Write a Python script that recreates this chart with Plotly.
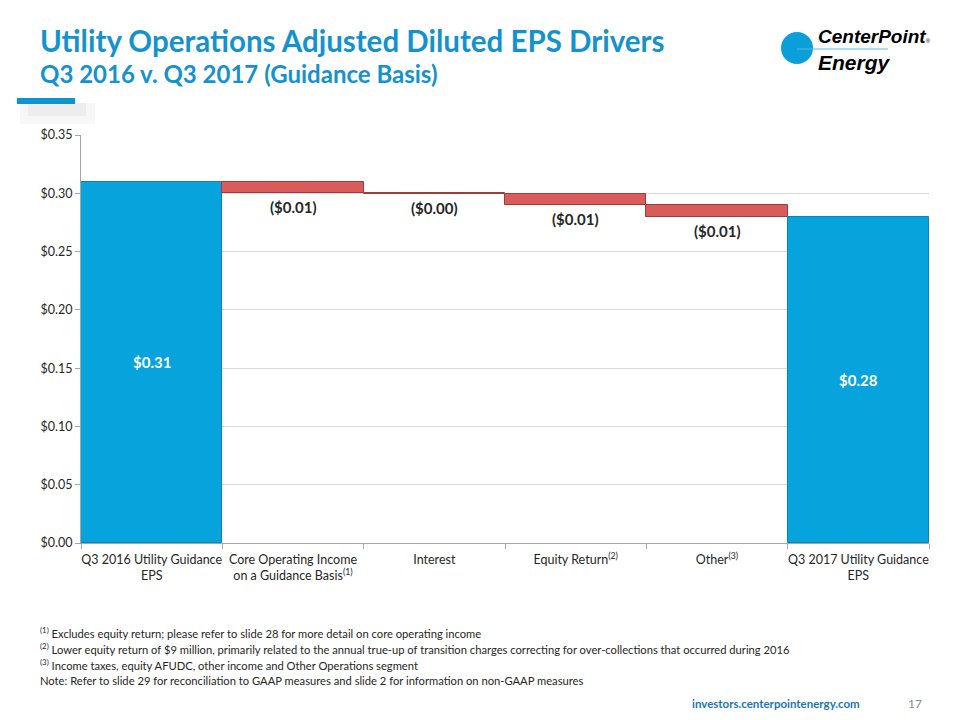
import plotly.graph_objects as go

categories = [
    "Q3 2016 Utility Guidance<br>EPS",
    "Core Operating Income<br>on a Guidance Basis<sup>(1)</sup>",
    "Interest",
    "Equity Return<sup>(2)</sup>",
    "Other<sup>(3)</sup>",
    "Q3 2017 Utility Guidance<br>EPS",
]
measures = ["absolute", "relative", "relative", "relative", "relative", "total"]
values = [0.31, -0.01, -0.0004, -0.01, -0.0096, 0]
labels = ["$0.31", "($0.01)", "($0.00)", "($0.01)", "($0.01)", "$0.28"]
y_ticks = [0.0, 0.05, 0.10, 0.15, 0.20, 0.25, 0.30, 0.35]

footnotes = [
    "<sup>(1)</sup> Excludes equity return; please refer to slide 28 for more detail on core operating income",
    "<sup>(2)</sup> Lower equity return of $9 million, primarily related to the annual true-up of transition charges correcting for over-collections that occurred during 2016",
    "<sup>(3)</sup> Income taxes, equity AFUDC, other income and Other Operations segment",
    "Note: Refer to slide 29 for reconciliation to GAAP measures and slide 2 for information on non-GAAP measures",
]

FONT = "Lato, Open Sans, sans-serif"
BLUE = "#06A3DC"
TITLE_BLUE = "#1592CE"

# page has an 8px body margin: the figure fills the rest of the window
OFF = 8
W, H = 960 - OFF, 720 - OFF
L, R, T, B = 81 - OFF, 31, 135 - OFF, 177
PW, PH = W - L - R, H - T - B


def px(x):
    return (x - OFF - L) / PW


def py(y):
    return (H - B - (y - OFF)) / PH


fig = go.Figure()
fig.add_trace(go.Waterfall(
    x=categories,
    y=values,
    measure=measures,
    textposition="none",
    connector=dict(visible=False),
    decreasing=dict(marker=dict(color="#D95B5B", line=dict(color="#9E3B3B", width=1))),
    increasing=dict(marker=dict(color="#D95B5B", line=dict(color="#9E3B3B", width=1))),
    totals=dict(marker=dict(color=BLUE, line=dict(color="#0A84B5", width=1))),
    hoverinfo="skip",
))

# value labels computed from the data
running = 0.0
annotations = []
for cat, m, v, lab in zip(categories, measures, values, labels):
    if m == "absolute":
        running = v
        annotations.append(dict(x=cat, y=running / 2, text=f"<b>{lab}</b>", showarrow=False,
                                font=dict(family=FONT, size=15, color="white")))
    elif m == "total":
        annotations.append(dict(x=cat, y=running / 2, text=f"<b>{lab}</b>", showarrow=False,
                                font=dict(family=FONT, size=15, color="white")))
    else:
        running += v
        annotations.append(dict(x=cat, y=running, text=f"<b>{lab}</b>", showarrow=False,
                                yanchor="top", yshift=-3,
                                font=dict(family=FONT, size=15, color="#262626")))

# titles
annotations.append(dict(xref="paper", yref="paper", x=px(38), y=py(41), xanchor="left", yanchor="middle",
                        text="<b>Utility Operations Adjusted Diluted EPS Drivers</b>", showarrow=False,
                        font=dict(family=FONT, size=29.5, color=TITLE_BLUE)))
annotations.append(dict(xref="paper", yref="paper", x=px(38), y=py(73), xanchor="left", yanchor="middle",
                        text="<b>Q3 2016 v. Q3 2017 (Guidance Basis)</b>", showarrow=False,
                        font=dict(family=FONT, size=24, color=TITLE_BLUE)))

# footnotes
for i, fn in enumerate(footnotes):
    annotations.append(dict(xref="paper", yref="paper", x=px(38), y=py(632 + 16 * i), xanchor="left",
                            yanchor="middle", text=fn, showarrow=False,
                            font=dict(family=FONT, size=11.2, color="#262626")))

# footer
annotations.append(dict(xref="paper", yref="paper", x=px(862), y=py(703), xanchor="right", yanchor="middle",
                        text="<b>investors.centerpointenergy.com</b>", showarrow=False,
                        font=dict(family=FONT, size=11.5, color="#1A75B8")))
annotations.append(dict(xref="paper", yref="paper", x=px(924), y=py(703), xanchor="right", yanchor="middle",
                        text="17", showarrow=False, font=dict(family=FONT, size=12, color="#8C8C8C")))

# logo text
LOGO_FONT = "Liberation Sans Narrow, Liberation Sans, sans-serif"
annotations.append(dict(xref="paper", yref="paper", x=px(816), y=py(37), xanchor="left", yanchor="middle",
                        text="<b><i>CenterPoint</i></b><span style='font-size:6px'>®</span>", showarrow=False,
                        font=dict(family=LOGO_FONT, size=19, color="black")))
annotations.append(dict(xref="paper", yref="paper", x=px(816), y=py(63), xanchor="left", yanchor="middle",
                        text="<b><i>Energy</i></b>", showarrow=False,
                        font=dict(family=LOGO_FONT, size=21, color="black")))

shapes = [
    # logo circle and line
    dict(type="circle", xref="paper", yref="paper", x0=px(781), x1=px(813), y0=py(32), y1=py(64),
         fillcolor="#0A9FDA", line=dict(width=0)),
    dict(type="line", xref="paper", yref="paper", x0=px(797), x1=px(888), y0=py(49), y1=py(49),
         line=dict(color="#5DB8E0", width=1)),
    # title accent bar with soft shadow
    dict(type="rect", xref="paper", yref="paper", x0=px(20), x1=px(95), y0=py(103), y1=py(124),
         fillcolor="rgba(0,0,0,0.03)", line=dict(width=0)),
    dict(type="rect", xref="paper", yref="paper", x0=px(28), x1=px(86), y0=py(103), y1=py(116),
         fillcolor="rgba(0,0,0,0.04)", line=dict(width=0)),
    dict(type="rect", xref="paper", yref="paper", x0=px(17), x1=px(75), y0=py(98), y1=py(104),
         fillcolor="#0B96D2", line=dict(width=0)),
]

fig.update_layout(
    width=W, height=H,
    margin=dict(l=L, r=R, t=T, b=B, autoexpand=False),
    paper_bgcolor="white", plot_bgcolor="white",
    showlegend=False,
    waterfallgap=0,
    annotations=annotations,
    shapes=shapes,
    font=dict(family=FONT, size=12, color="#262626"),
)
fig.update_xaxes(
    type="category",
    automargin=False,
    tickangle=0,
    ticklabelstandoff=5,
    showline=True, linecolor="#A6A6A6", linewidth=1,
    ticks="outside", tickson="boundaries", ticklen=5, tickcolor="#A6A6A6",
    tickfont=dict(family=FONT, size=12.5, color="#262626"),
    showgrid=False,
)
fig.update_yaxes(
    automargin=False,
    range=[0, 0.35],
    tickvals=y_ticks,
    tickformat="$.2f",
    showline=True, linecolor="#A6A6A6", linewidth=1,
    ticks="outside", ticklen=5, tickcolor="#A6A6A6",
    showgrid=True, gridcolor="#D9D9D9", gridwidth=1,
    zeroline=False,
    tickfont=dict(family=FONT, size=12.5, color="#262626"),
)

fig.write_html("out.html")
